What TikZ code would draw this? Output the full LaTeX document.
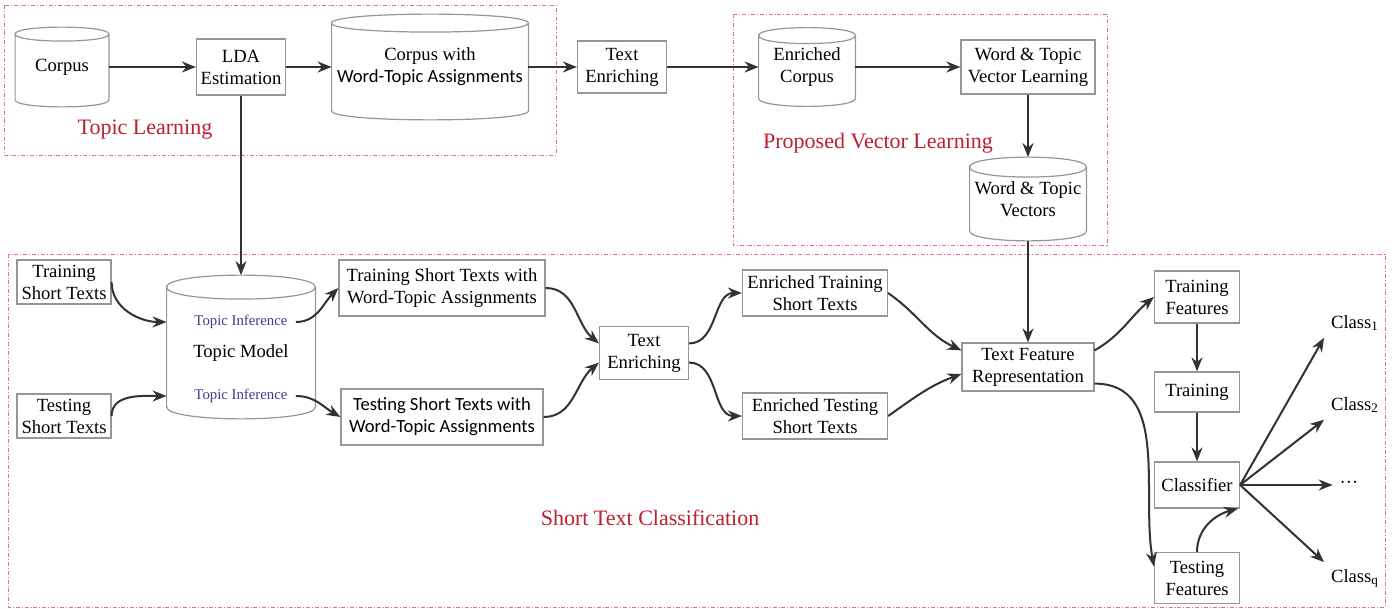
\documentclass[tikz,border=0pt]{standalone}
\usepackage{fontspec}
\setmainfont{Liberation Serif}
\newfontfamily\sansfnt{Carlito}
\usetikzlibrary{arrows.meta,positioning}
\definecolor{boxgray}{RGB}{150,150,150}
\definecolor{flowgray}{RGB}{50,50,50}
\definecolor{titlered}{RGB}{190,30,45}
\definecolor{infblue}{RGB}{60,60,150}
\definecolor{regionred}{RGB}{232,110,125}
\tikzstyle{every node}=[font=\fontsize{9.3}{11}\selectfont]
\tikzstyle{box}=[draw=boxgray,line width=0.6pt,align=center,inner sep=1pt]
\tikzstyle{store}=[align=center,inner sep=0pt]
\tikzstyle{storeline}=[draw=boxgray,line width=0.6pt]
\tikzstyle{flow}=[draw=flowgray,line width=1pt,-{Stealth[length=7pt,width=5.5pt]}]
\tikzstyle{region}=[draw=regionred,line width=0.4pt,dash pattern=on 2pt off 1pt on 0.4pt off 1pt]
\tikzstyle{title}=[text=titlered,font=\fontsize{11}{13}\selectfont]
\tikzstyle{infer}=[text=infblue,font=\fontsize{7.4}{8}\selectfont,inner sep=4pt]
\newcommand{\storeshape}[2]{%
  \draw[storeline] ([yshift=-#2]#1.north west)
    .. controls +(0pt,1.33*#2) and +(0pt,1.33*#2) .. ([yshift=-#2]#1.north east)
    .. controls +(0pt,-1.33*#2) and +(0pt,-1.33*#2) .. ([yshift=-#2]#1.north west)
    -- ([yshift=#2]#1.south west)
    .. controls +(0pt,-1.33*#2) and +(0pt,-1.33*#2) .. ([yshift=#2]#1.south east)
    -- ([yshift=-#2]#1.north east);}

\begin{document}
\begin{tikzpicture}[x=0.5pt,y=-0.5pt]
  \useasboundingbox (0,0) rectangle (1397,609);
  \draw[region] (4,5) rectangle (556,155);
  \draw[region] (733,14) rectangle (1107,245);
  \draw[region] (8,254) rectangle (1385,607);

  \node[title] (tltopic) at (145,130) {Topic Learning};
  \node[title] (tlvector) at (878,143) {Proposed Vector Learning};
  \node[title] (tlclass) at (650,518) {Short Text Classification};

  \node[store,minimum width=46.5pt,minimum height=39.5pt] (corpus) at (62,67) {Corpus};
  \node[box,minimum width=44.5pt,minimum height=28pt] (lda) at (241,67) {LDA\\Estimation};
  \node[store,minimum width=98pt,minimum height=52.5pt] (cwta) at (430,67)
       {Corpus with\\{\sansfnt Word-Topic Assignments}};
  \node[box,minimum width=44.5pt,minimum height=26pt] (tenrich) at (622,67) {Text\\Enriching};
  \node[store,minimum width=48pt,minimum height=39pt] (ecorpus) at (807,67) {Enriched\\Corpus};
  \node[box,minimum width=67pt,minimum height=27pt] (wtvl) at (1028,67) {Word \& Topic\\Vector Learning};
  \node[store,minimum width=58pt,minimum height=41.5pt] (wtv) at (1028,199) {Word \& Topic\\Vectors};
  \storeshape{corpus}{3.5pt}
  \storeshape{cwta}{4.5pt}
  \storeshape{ecorpus}{4pt}
  \storeshape{wtv}{5pt}

  \node[box,minimum width=47pt,minimum height=22pt] (trst) at (64,282) {Training\\Short Texts};
  \node[box,minimum width=47pt,minimum height=22pt] (tsst) at (64,416) {Testing\\Short Texts};
  \node[store,minimum width=74pt,minimum height=71.5pt] (tm) at (241,347) {};
  \storeshape{tm}{6pt}
  \node (tmlabel) at (241,353) {Topic Model};
  \node[infer] (tinf1) at (241,322) {Topic Inference};
  \node[infer] (tinf2) at (241,396) {Topic Inference};
  \coordinate (tmin1) at (tm.west |- tinf1);
  \coordinate (tmin2) at (tm.west |- tinf2);
  \node[box,minimum width=103pt,minimum height=28pt] (trwta) at (442,288)
       {Training Short Texts with\\Word-Topic Assignments};
  \node[box,minimum width=101pt,minimum height=28pt,font=\sansfnt\fontsize{9.3}{11}\selectfont] (tswta) at (442,417)
       {Testing Short Texts with\\Word-Topic Assignments};
  \node[box,minimum width=44.5pt,minimum height=26.5pt] (tenrich2) at (644,353) {Text\\Enriching};
  \node[box,minimum width=72.5pt,minimum height=23pt] (etrain) at (815,293) {Enriched Training\\Short Texts};
  \node[box,minimum width=72.5pt,minimum height=23pt] (etest) at (815,416) {Enriched Testing\\Short Texts};
  \node[box,minimum width=66pt,minimum height=24pt] (tfr) at (1028,367) {Text Feature\\Representation};
  \node[box,minimum width=42.5pt,minimum height=26pt] (trfeat) at (1197,297) {Training\\Features};
  \node[box,minimum width=42.5pt,minimum height=20pt] (train) at (1197,392) {Training};
  \node[box,minimum width=42.5pt,minimum height=23pt] (clf) at (1197,485) {Classifier};
  \node[box,minimum width=42.5pt,minimum height=25.5pt] (tsfeat) at (1197,578) {Testing\\Features};
  \node (cls1) at (1355,323) {Class\textsubscript{1}};
  \node (cls2) at (1355,405) {Class\textsubscript{2}};
  \node (clsdots) at (1349,485) {···};
  \node (clsq) at (1355,578) {Class\textsubscript{q}};

  \draw[flow] (corpus) -- (lda);
  \draw[flow] (lda) -- (cwta);
  \draw[flow] (cwta) -- (tenrich);
  \draw[flow] (tenrich) -- (ecorpus);
  \draw[flow] (ecorpus) -- (wtvl);
  \draw[flow] (wtvl) -- (wtv);
  \draw[flow] (wtv) -- (tfr);
  \draw[flow] (lda) -- (tm);
  \draw[flow] (trst.east) to[out=-90,in=180] (tmin1);
  \draw[flow] (tsst.east) to[out=90,in=180] (tmin2);
  \draw[flow] (tinf1.east) to[out=0,in=225] (trwta.west);
  \draw[flow] (tinf2.east) to[out=0,in=150] (tswta.west);
  \draw[flow] (trwta.east) to[out=0,in=140] (tenrich2.168);
  \draw[flow] (tswta.east) to[out=0,in=220] (tenrich2.192);
  \draw[flow] (tenrich2.12) to[out=0,in=180] (etrain.west);
  \draw[flow] (tenrich2.-12) to[out=0,in=180] (etest.west);
  \draw[flow] (etrain.east) to[out=-35,in=155] (tfr.166);
  \draw[flow] (etest.east) to[out=35,in=200] (tfr.186);
  \draw[flow] (tfr.14) to[out=30,in=220] (trfeat.west);
  \draw[flow] (tfr.-14) to[out=0,in=100] (tsfeat.165);
  \draw[flow] (trfeat) -- (train);
  \draw[flow] (train) -- (clf);
  \draw[flow] (tsfeat.north) to[out=90,in=195] (clf.-30);
  \draw[flow] (clf.east) -- (cls1.south west);
  \draw[flow] (clf.east) -- (cls2.south west);
  \draw[flow] (clf.east) -- (clsdots.west);
  \draw[flow] (clf.east) -- (clsq.north west);
\end{tikzpicture}
\end{document}
